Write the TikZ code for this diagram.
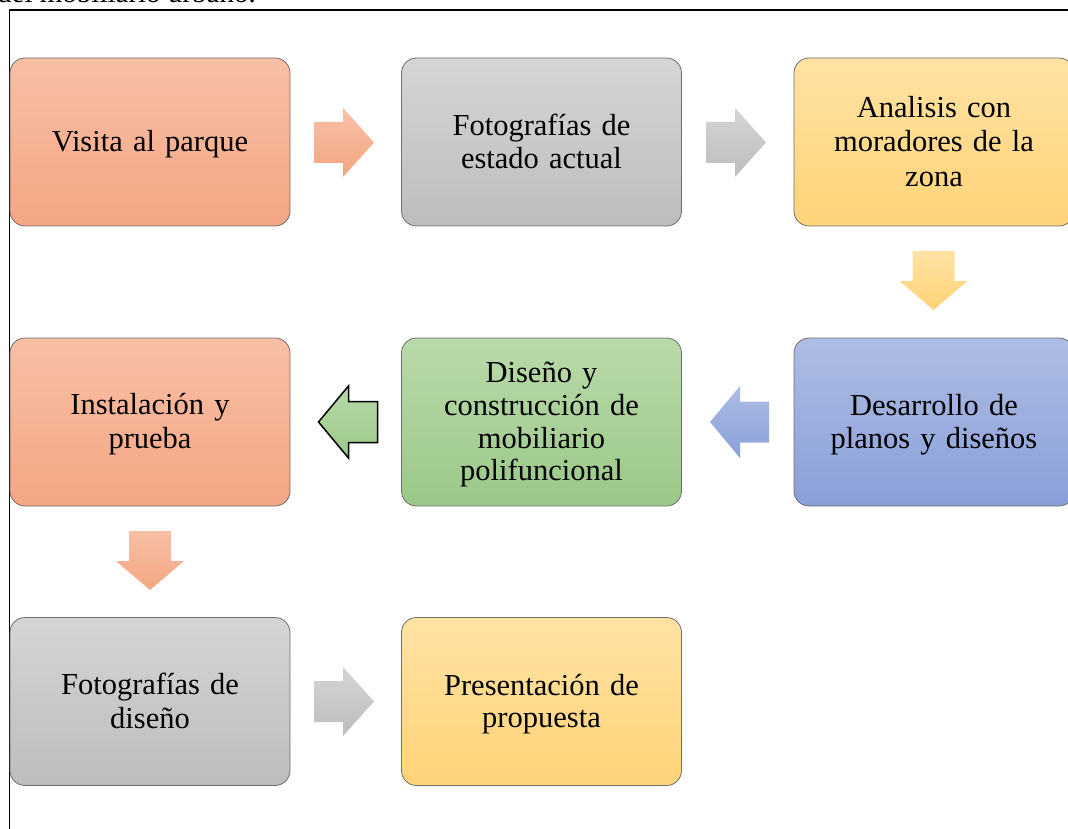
\documentclass[tikz,border=0pt]{standalone}
\usepackage{fontspec}
\setmainfont{Liberation Serif}
\usetikzlibrary{calc}
\definecolor{orT}{HTML}{F8BFA5}\definecolor{orB}{HTML}{F4A683}
\definecolor{grT}{HTML}{D5D5D5}\definecolor{grB}{HTML}{BDBDBD}
\definecolor{yeT}{HTML}{FFE2A3}\definecolor{yeB}{HTML}{FFD378}
\definecolor{blT}{HTML}{AEBDE4}\definecolor{blB}{HTML}{8A9FD8}
\definecolor{gnT}{HTML}{B9DAAA}\definecolor{gnB}{HTML}{9BC888}
\definecolor{edge}{HTML}{6E6E6E}
\newcommand\bxstrut{\rule[-6.35pt]{0pt}{32.7pt}}
\tikzset{
  box/.style={draw=edge, line width=0.8pt, rounded corners=15pt, minimum width=280pt, minimum height=168pt,
    align=center, font=\fontsize{30.5}{32.7}\selectfont, inner sep=0pt, text width=260pt,
    execute at begin node=\bxstrut, execute at end node=\bxstrut},
  widelines/.style={font=\fontsize{30.5}{34.5}\selectfont},
  orange/.style={top color=orT, bottom color=orB},
  gray/.style={top color=grT, bottom color=grB},
  yellow/.style={top color=yeT, bottom color=yeB},
  blue/.style={top color=blT, bottom color=blB},
  green/.style={top color=gnT, bottom color=gnB},
  rarrow/.pic={\path[pic actions] (-30,-20.5) -- (-1,-20.5) -- (-1,-34.5) -- (30,0) -- (-1,34.5) -- (-1,20.5) -- (-30,20.5) -- cycle;},
  larrow/.pic={\path[pic actions] (29.5,-20.5) -- (0.5,-20.5) -- (0.5,-36) -- (-29.5,0) -- (0.5,36) -- (0.5,20.5) -- (29.5,20.5) -- cycle;},
  darrow/.pic={\path[pic actions] (-21,-29.5) -- (21,-29.5) -- (21,0.5) -- (34,0.5) -- (0,29.5) -- (-34,0.5) -- (-21,0.5) -- cycle;},
}
\begin{document}
\begin{tikzpicture}[x=1pt,y=-1pt]
\useasboundingbox (0,0) rectangle (1068,829);
\clip (0,0) rectangle (1068,829);
\node[anchor=base west, font=\fontsize{29}{34}\selectfont, inner sep=0pt] (cap) at (-3,3) {del mobiliario urbano.};
\coordinate (fa) at (9.5,829);
\coordinate (fb) at (9.5,10);
\coordinate (fc) at (1068,10);
\draw[line width=1.4pt] (fa) -- (fb) -- (fc);
% boxes
\node[box, orange] (b1) at (150,142) {Visita al parque};
\node[box, gray]   (b2) at (541.5,142) {Fotografías de\\estado actual};
\node[box, yellow, widelines] (b3) at (934,142) {Analisis con\\moradores de la\\zona};
\node[box, blue]   (b4) at (934,422) {Desarrollo de\\planos y diseños};
\node[box, green]  (b5) at (541.5,422) {Diseño y\\construcción de\\mobiliario\\polifuncional};
\node[box, orange] (b6) at (150,422) {Instalación y\\prueba};
\node[box, gray]   (b7) at (150,701.5) {Fotografías de\\diseño};
\node[box, yellow] (b8) at (541.5,701.5) {Presentación de\\propuesta};
% arrows
\pic[orange] at (344,142.5) {rarrow};
\pic[gray]   at (736,142.5) {rarrow};
\pic[yellow] at (933.5,280.5) {darrow};
\pic[blue]   at (739.5,422) {larrow};
\pic[green, draw=black, line width=1.5pt] at (348,422) {larrow};
\pic[orange] at (150,560.5) {darrow};
\pic[gray]   at (344,701.5) {rarrow};
\end{tikzpicture}
\end{document}
